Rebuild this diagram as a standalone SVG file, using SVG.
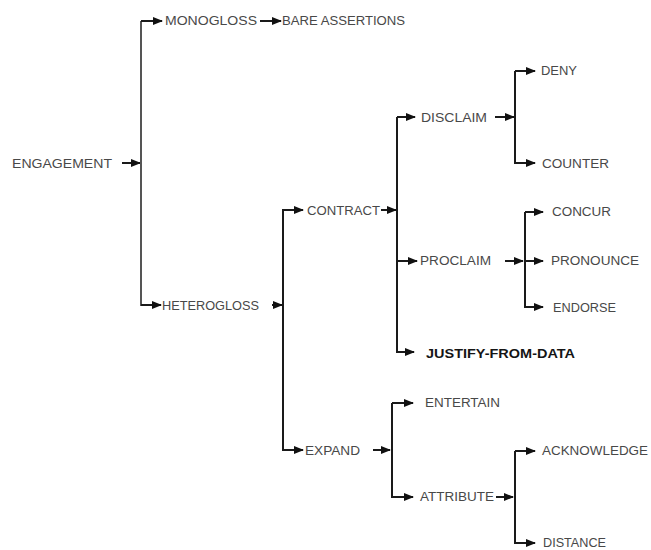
<svg xmlns="http://www.w3.org/2000/svg" width="651" height="550" viewBox="0 0 651 550">
<style>
.t{font-family:"Liberation Sans",Arial,sans-serif;font-size:12.5px;fill:#484848;dominant-baseline:central}
.b{font-weight:bold;fill:#151515}
.c{fill:none;stroke:#1a1a1a;stroke-width:2}
.a{fill:none;stroke:#1a1a1a;stroke-width:2;marker-end:url(#ah)}
</style>
<defs>
<marker id="ah" markerUnits="userSpaceOnUse" markerWidth="10" markerHeight="8" refX="9" refY="4" orient="auto">
<path d="M0,0 L10,4 L0,8 Z" fill="#111"/>
</marker>
</defs>
<rect width="651" height="550" fill="#fff"/>
<g id="connectors">
<path class="a" d="M122,163 H140"/>
<path class="c" d="M141,21 V306" style="stroke:#555"/>
<path class="a" d="M141,21 H162"/>
<path class="a" d="M260,21 H281"/>
<path class="a" d="M141,305 H161"/>
<path class="a" d="M272,305 H282"/>
<path class="c" d="M283,209 V451"/>
<path class="a" d="M283,210 H303"/>
<path class="a" d="M381,210 H396"/>
<path class="c" d="M397,117 V353"/>
<path class="a" d="M397,117 H415"/>
<path class="a" d="M495,117 H514"/>
<path class="c" d="M515,71 V164"/>
<path class="a" d="M515,71 H535"/>
<path class="a" d="M515,163 H535"/>
<path class="a" d="M397,261 H417"/>
<path class="a" d="M505,261 H523"/>
<path class="c" d="M525,212 V308"/>
<path class="a" d="M525,212 H543"/>
<path class="a" d="M525,261 H543"/>
<path class="a" d="M525,307 H543"/>
<path class="a" d="M397,352 H414"/>
<path class="a" d="M283,450 H303"/>
<path class="a" d="M373,450 H390"/>
<path class="c" d="M392,403 V498"/>
<path class="a" d="M392,403 H413"/>
<path class="a" d="M392,497 H413"/>
<path class="a" d="M496,497 H513"/>
<path class="c" d="M515,451 V544"/>
<path class="a" d="M515,451 H535"/>
<path class="a" d="M515,543 H535"/>
</g>
<g id="engagement"><text class="t" x="12" y="164" textLength="100" lengthAdjust="spacingAndGlyphs">ENGAGEMENT</text></g>
<g id="monogloss"><text class="t" x="165" y="21" textLength="92" lengthAdjust="spacingAndGlyphs">MONOGLOSS</text></g>
<g id="bare-assertions"><text class="t" x="282" y="21" textLength="123" lengthAdjust="spacingAndGlyphs">BARE ASSERTIONS</text></g>
<g id="heterogloss"><text class="t" x="162" y="306" textLength="97" lengthAdjust="spacingAndGlyphs">HETEROGLOSS</text></g>
<g id="contract"><text class="t" x="307" y="211" textLength="73" lengthAdjust="spacingAndGlyphs">CONTRACT</text></g>
<g id="disclaim"><text class="t" x="421" y="118" textLength="66" lengthAdjust="spacingAndGlyphs">DISCLAIM</text></g>
<g id="deny"><text class="t" x="541" y="71" textLength="36" lengthAdjust="spacingAndGlyphs">DENY</text></g>
<g id="counter"><text class="t" x="542" y="164" textLength="67" lengthAdjust="spacingAndGlyphs">COUNTER</text></g>
<g id="proclaim"><text class="t" x="420" y="261" textLength="71" lengthAdjust="spacingAndGlyphs">PROCLAIM</text></g>
<g id="concur"><text class="t" x="552" y="212" textLength="59" lengthAdjust="spacingAndGlyphs">CONCUR</text></g>
<g id="pronounce"><text class="t" x="551" y="261" textLength="88" lengthAdjust="spacingAndGlyphs">PRONOUNCE</text></g>
<g id="endorse"><text class="t" x="553" y="308" textLength="63" lengthAdjust="spacingAndGlyphs">ENDORSE</text></g>
<g id="justify-from-data"><text class="t b" x="426" y="354" textLength="149" lengthAdjust="spacingAndGlyphs">JUSTIFY-FROM-DATA</text></g>
<g id="expand"><text class="t" x="305" y="451" textLength="55" lengthAdjust="spacingAndGlyphs">EXPAND</text></g>
<g id="entertain"><text class="t" x="425" y="403" textLength="75" lengthAdjust="spacingAndGlyphs">ENTERTAIN</text></g>
<g id="attribute"><text class="t" x="420" y="497" textLength="74" lengthAdjust="spacingAndGlyphs">ATTRIBUTE</text></g>
<g id="acknowledge"><text class="t" x="542" y="451" textLength="106" lengthAdjust="spacingAndGlyphs">ACKNOWLEDGE</text></g>
<g id="distance"><text class="t" x="543" y="543" textLength="63" lengthAdjust="spacingAndGlyphs">DISTANCE</text></g>
</svg>
